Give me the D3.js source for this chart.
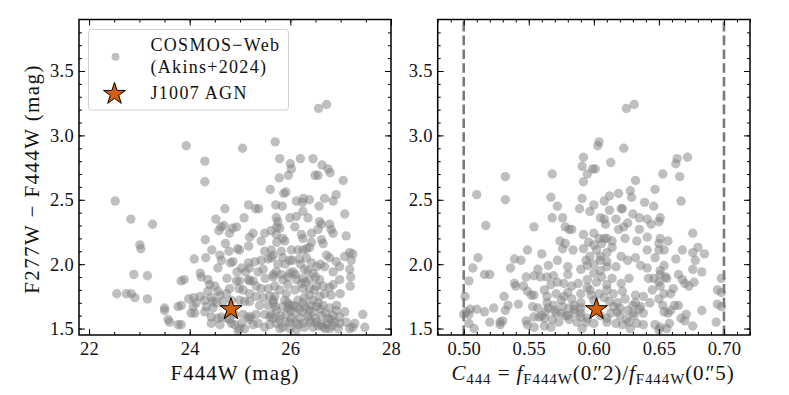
<!DOCTYPE html>
<html>
<head>
<meta charset="utf-8">
<script src="https://cdn.jsdelivr.net/npm/d3@7"></script>
<style>
  body { margin: 0; background: #fff; }
  svg text { font-family: "Liberation Serif", "DejaVu Serif", serif; fill: #111; }
  .tick text { font-size: 18.5px; letter-spacing: 0.3px; }
  .label { font-size: 21px; }
  .legend text { font-size: 18px; letter-spacing: 1.3px; }
</style>
</head>
<body>
<svg id="chart" width="789" height="395"></svg>
<script>
// tick values
const magTicks = [22, 24, 26, 28];
const concTicks = [0.50, 0.55, 0.60, 0.65, 0.70];
const colorTicks = [1.5, 2.0, 2.5, 3.0, 3.5];
// C444 selection limits (dashed lines)
const concCuts = [0.50, 0.70];

// J1007 AGN
const agnMag = 24.82, agnConc = 0.602, agnColor = 1.65;

// COSMOS-Web sample, [F444W mag, F277W-F444W]
const magColor = [
  [22.52,2.49],[22.55,1.77],[22.74,1.77],[22.83,2.35],[22.84,1.77],[22.89,1.92],[22.91,1.74],[23.01,2.15],[23.03,2.12],[23.16,1.91],[23.16,1.73],
  [23.93,2.92],[24.3,2.8],[24.3,2.64],[25.05,2.9],[25.6,2.58],[25.7,2.95],[25.78,2.67],[25.79,2.82],[25.87,2.55],[25.91,2.56],[25.96,2.69],[26.0,2.78],
  [26.02,2.74],[26.2,2.82],[26.45,2.82],[26.49,2.69],[26.55,2.69],[26.56,3.21],[26.72,3.24],[26.63,2.77],[26.75,2.74],[26.79,2.71],[27.05,2.65],
  [26.91,2.54],[26.68,2.51],[26.26,2.51],
  [25.17,2.46],[25.31,2.43],[25.37,2.43],[24.70,2.43],[25.08,2.36],[24.52,2.35],[23.26,2.31],[24.62,2.29],[24.68,2.30],[24.85,2.28],[24.93,2.29],
  [24.58,2.26],[24.79,2.24],[25.26,2.24],[25.19,2.21],[25.49,2.24],[25.62,2.26],[24.31,2.19],[24.71,2.16],[24.44,2.11],[24.95,2.12],[24.99,2.11],
  [25.17,2.14],[25.42,2.18],[25.49,2.10],[25.62,2.11],[24.60,2.07],[24.78,2.10],[24.09,2.04],[24.32,2.05],[24.63,2.03],[24.81,2.01],[24.86,2.02],
  [25.17,2.01],[25.30,2.02],[25.42,2.03],[25.56,2.04],[25.62,2.05],[24.21,1.93],[24.23,1.90],[23.89,1.88],[23.83,1.87],[24.36,1.88],[24.56,1.97],
  [24.74,1.89],[24.93,1.87],[24.99,1.87],[25.19,1.97],[25.11,1.94],[25.36,1.94],[25.46,1.96],[25.50,1.89],[25.66,1.92],[24.94,1.94],[25.03,1.97],
  [25.17,1.88],[25.19,1.87],[25.26,1.87],[25.32,1.83],[25.42,1.81],[25.56,1.81],[24.40,1.84],[24.50,1.83],[24.36,1.79],[24.56,1.79],[24.60,1.76],
  [24.73,1.77],[24.79,1.81],[24.98,1.81],[25.06,1.80],[25.19,1.77],[25.32,1.75],[25.46,1.74],[25.59,1.75],[25.66,1.72],[23.98,1.73],[24.08,1.74],
  [24.21,1.75],[24.13,1.70],[24.30,1.72],[24.43,1.74],[24.46,1.71],[24.53,1.70],[24.33,1.67],[24.66,1.71],[24.83,1.72],[24.99,1.72],[25.09,1.71],
  [25.19,1.71],[25.39,1.68],[25.56,1.68],[23.50,1.66],[23.50,1.64],[23.77,1.67],[23.83,1.68],[24.07,1.67],[24.10,1.62],[24.03,1.62],[24.30,1.63],
  [24.46,1.66],[24.63,1.59],[24.74,1.58],[24.89,1.61],[25.06,1.61],[25.16,1.59],[25.22,1.59],[25.32,1.61],[25.49,1.61],[25.59,1.59],[23.57,1.57],
  [23.60,1.55],[23.77,1.53],[23.83,1.53],[24.43,1.59],[24.56,1.58],[24.43,1.54],[24.60,1.53],[24.79,1.57],[24.83,1.54],[24.89,1.53],[25.03,1.54],
  [25.09,1.50],[25.19,1.57],[25.26,1.53],[25.36,1.54],[25.49,1.51],[25.59,1.53],[24.99,1.50],[24.96,1.48],
  [25.71,2.46],[25.84,2.45],[26.12,2.49],[26.24,2.48],[26.38,2.50],[26.57,2.45],[26.85,2.49],[27.08,2.39],[25.72,2.36],[25.75,2.33],[25.99,2.36],
  [26.12,2.37],[26.25,2.41],[26.35,2.36],[26.58,2.33],[26.62,2.31],[26.78,2.31],[26.81,2.27],[25.73,2.29],[25.79,2.28],[26.09,2.29],[26.22,2.23],
  [26.25,2.20],[26.42,2.24],[26.55,2.27],[26.85,2.24],[27.11,2.22],[25.72,2.23],[25.85,2.20],[25.89,2.18],[25.73,2.17],[26.02,2.11],[26.15,2.11],
  [26.25,2.11],[26.32,2.12],[26.42,2.17],[26.38,2.13],[26.62,2.19],[26.65,2.16],[26.72,2.07],[26.78,2.05],[26.91,2.02],[27.08,2.06],[27.18,2.09],
  [27.24,2.08],[27.21,2.03],[27.18,1.96],[27.2,1.90],[27.19,1.83],[26.98,1.88],[26.99,1.77],[26.85,1.84],[26.78,1.82],[25.66,2.07],[25.82,2.10],
  [25.85,2.05],[25.99,2.03],[26.04,2.03],[26.18,2.04],[26.32,2.05],[26.42,2.01],[26.52,1.98],[26.45,1.93],[26.28,1.96],[26.25,1.89],[26.22,1.85],
  [26.05,1.94],[25.99,1.93],[25.82,1.92],[25.72,1.94],[25.66,1.90],[25.85,1.88],[25.95,1.84],[25.69,1.83],[25.79,1.80],[25.92,1.77],[26.09,1.80],
  [26.25,1.81],[26.38,1.81],[26.52,1.83],[26.65,1.83],[26.68,1.77],[26.81,1.76],[26.58,1.75],[26.45,1.72],[26.25,1.70],[26.12,1.67],[25.99,1.68],
  [25.85,1.67],[25.72,1.64],[25.66,1.70],[25.92,1.61],[26.09,1.62],[26.25,1.63],[26.38,1.64],[26.52,1.67],[26.65,1.68],[26.78,1.66],[26.91,1.64],
  [26.98,1.59],[27.08,1.63],[27.11,1.55],[27.28,1.54],[27.24,1.51],[27.18,1.50],[27.44,1.61],[27.48,1.51],[26.98,1.54],[26.81,1.57],[26.72,1.54],
  [26.62,1.53],[26.52,1.55],[26.38,1.57],[26.25,1.54],[26.15,1.53],[25.99,1.55],[25.85,1.51],[25.72,1.54],[25.79,1.50],[25.99,1.50],[26.12,1.49],
  [26.28,1.51],[26.45,1.51],[26.65,1.51],[26.78,1.50],[26.88,1.55],[25.62,1.61],[25.89,1.72],[25.69,1.75],[26.38,1.76],[26.58,1.88],[26.38,1.88],
  [26.12,1.88],[26.68,1.98],[26.85,1.94],[26.98,1.98],
  [25.95,1.66],[26.0,1.64],[26.05,1.68],[26.18,1.65],[26.3,1.67],[26.35,1.6],[26.45,1.63],[26.5,1.58],[26.6,1.65],[26.7,1.62],[26.75,1.58],
  [26.85,1.6],[26.92,1.68],[25.8,1.6],[25.78,1.57],[25.9,1.55],[26.02,1.58],[26.2,1.58],[26.4,1.55],[26.55,1.52],[26.7,1.5],[26.83,1.52],
  [26.95,1.5],[26.1,1.55],[25.7,1.67],[25.65,1.58],[26.28,1.74],[26.55,1.7],[26.62,1.6],[26.4,1.68],[26.15,1.72],[25.95,1.7],[26.48,1.8],
  [26.3,1.86],[26.5,1.9],[26.35,1.95],[26.6,2.0],[26.2,2.0],[25.9,2.0],[26.1,1.92],[25.75,2.0],[25.95,1.9]
];

// COSMOS-Web sample, [C444, F277W-F444W]
const concColor = [
  [0.532,2.68],[0.510,2.54],[0.532,2.50],[0.517,2.30],[0.554,2.29],[0.549,2.11],[0.511,2.05],[0.507,1.97],[0.539,2.04],[0.544,2.03],[0.536,1.97],
  [0.516,1.92],[0.520,1.92],[0.504,1.87],[0.557,1.96],[0.548,1.90],[0.554,1.91],[0.539,1.85],[0.540,1.83],[0.546,1.83],[0.549,1.79],[0.552,1.76],
  [0.554,1.76],[0.501,1.75],[0.531,1.75],[0.534,1.68],[0.542,1.69],[0.523,1.66],[0.510,1.65],[0.505,1.65],[0.516,1.63],[0.532,1.64],[0.500,1.61],
  [0.504,1.61],[0.502,1.63],[0.553,1.67],[0.557,1.66],[0.504,1.54],[0.508,1.50],[0.520,1.55],[0.528,1.55],[0.528,1.53],[0.530,1.56],[0.548,1.56],
  [0.549,1.53],[0.554,1.51],[0.554,1.59],[0.558,1.59],
  [0.625,3.21],[0.631,3.24],[0.603,2.92],[0.604,2.95],[0.623,2.90],
  [0.592,2.83],[0.591,2.76],[0.595,2.70],[0.599,2.74],[0.601,2.74],[0.592,2.64],[0.613,2.79],[0.568,2.70],[0.632,2.65],[0.567,2.52],[0.591,2.51],
  [0.572,2.45],[0.589,2.43],[0.597,2.41],[0.600,2.46],[0.608,2.49],[0.612,2.53],[0.619,2.55],[0.628,2.57],[0.629,2.52],[0.639,2.48],[0.612,2.42],
  [0.621,2.43],[0.622,2.43],[0.630,2.39],[0.635,2.36],[0.641,2.35],[0.568,2.36],[0.576,2.36],[0.605,2.36],[0.608,2.35],[0.617,2.35],[0.578,2.29],
  [0.581,2.27],[0.583,2.27],[0.592,2.23],[0.609,2.31],[0.619,2.27],[0.623,2.29],[0.626,2.32],[0.635,2.27],[0.624,2.20],[0.633,2.18],[0.641,2.21],
  [0.574,2.18],[0.578,2.16],[0.584,2.11],[0.576,2.12],[0.592,2.12],[0.596,2.17],[0.600,2.24],[0.604,2.20],[0.606,2.16],[0.610,2.20],[0.614,2.18],
  [0.560,2.08],[0.572,2.03],[0.565,1.99],[0.559,1.90],[0.564,1.90],[0.569,1.91],[0.580,1.98],[0.580,1.92],[0.590,1.96],[0.594,2.03],[0.597,2.06],
  [0.602,2.11],[0.605,2.03],[0.610,2.09],[0.614,2.13],[0.621,2.06],[0.626,2.03],[0.632,2.05],[0.636,1.99],[0.641,1.97],[0.610,1.98],[0.617,1.98],
  [0.627,1.89],[0.621,1.85],[0.614,1.89],[0.606,1.90],[0.600,1.93],[0.595,1.88],[0.588,1.85],[0.583,1.83],[0.577,1.85],[0.572,1.86],[0.567,1.84],
  [0.562,1.80],[0.564,1.75],[0.571,1.77],[0.577,1.75],[0.583,1.73],[0.590,1.77],[0.597,1.80],[0.604,1.77],[0.610,1.80],[0.615,1.77],[0.622,1.79],
  [0.632,1.76],[0.638,1.75],[0.624,1.73],[0.618,1.70],[0.612,1.71],[0.632,1.70],[0.636,1.67],[0.564,1.70],[0.569,1.68],[0.576,1.67],[0.581,1.66],
  [0.585,1.68],[0.590,1.66],[0.563,1.63],[0.571,1.62],[0.578,1.60],[0.585,1.62],[0.590,1.59],[0.613,1.62],[0.618,1.63],[0.626,1.64],[0.631,1.60],
  [0.638,1.62],[0.562,1.58],[0.568,1.57],[0.573,1.55],[0.581,1.57],[0.587,1.55],[0.594,1.55],[0.610,1.55],[0.617,1.54],[0.622,1.53],[0.627,1.55],
  [0.633,1.54],[0.638,1.53],[0.567,1.51],[0.591,1.50],[0.600,1.54],[0.628,1.50],
  [0.664,2.82],[0.663,2.78],[0.672,2.83],[0.653,2.70],[0.666,2.68],[0.647,2.58],[0.667,2.49],[0.646,2.45],[0.644,2.31],[0.650,2.33],[0.651,2.36],
  [0.651,2.20],[0.657,2.18],[0.650,2.16],[0.676,2.24],[0.641,2.11],[0.650,2.11],[0.654,2.11],[0.668,2.11],[0.680,2.13],[0.676,2.09],[0.685,2.08],
  [0.647,2.05],[0.663,2.04],[0.678,2.03],[0.654,1.99],[0.651,1.95],[0.676,1.96],[0.683,1.94],[0.642,1.89],[0.646,1.89],[0.651,1.92],[0.655,1.90],
  [0.650,1.86],[0.656,1.89],[0.665,1.92],[0.668,1.88],[0.670,1.85],[0.673,1.83],[0.677,1.86],[0.698,1.89],[0.695,1.80],[0.698,1.78],[0.645,1.80],
  [0.651,1.83],[0.654,1.77],[0.661,1.81],[0.659,1.77],[0.643,1.70],[0.650,1.73],[0.653,1.68],[0.662,1.68],[0.665,1.68],[0.659,1.64],[0.654,1.63],
  [0.657,1.62],[0.695,1.69],[0.698,1.67],[0.683,1.64],[0.667,1.58],[0.671,1.61],[0.670,1.56],[0.647,1.53],[0.651,1.51],[0.650,1.49],[0.656,1.50],
  [0.658,1.54],[0.676,1.52],[0.694,1.55],
  [0.565,1.66],[0.57,1.64],[0.575,1.62],[0.58,1.6],[0.585,1.65],[0.59,1.62],[0.595,1.58],[0.605,1.6],[0.61,1.58],[0.62,1.6],[0.625,1.57],
  [0.63,1.62],[0.62,1.66],[0.615,1.67],[0.63,1.68],[0.635,1.65],[0.59,1.7],[0.6,1.72],[0.608,1.74],[0.598,1.76],[0.595,1.82],[0.602,1.86],
  [0.61,1.84],[0.605,1.95],[0.6,2.0],[0.61,2.02],[0.605,2.06],[0.6,2.15],[0.608,2.2],[0.595,1.99],[0.58,1.78],[0.575,1.72],[0.56,1.6],[0.562,1.52]
];

const svg = d3.select("#chart");
const yTop = 19.5, yBottom = 335;
const y = d3.scaleLinear().domain([1.45, 3.9]).range([yBottom, yTop]);
const xMag = d3.scaleLinear().domain([21.8, 28]).range([79, 391]);
const xConc = d3.scaleLinear().domain([0.48, 0.72]).range([437.7, 750]);

const colorMinor = d3.range(15, 39).map(v => v / 10);
const magMinor = d3.range(44, 57).map(v => v / 2);
const concMinor = d3.range(48, 73).map(v => v / 100);

const starPath = d3.symbol(d3.symbolStar, 150)();
const agnFill = "#d45f0c";

function panel(id, x, data, xMajor, xMinor, xFmt) {
  const [x0, x1] = x.range();
  svg.append("clipPath").attr("id", id)
    .append("rect").attr("x", x0).attr("y", yTop).attr("width", x1 - x0).attr("height", yBottom - yTop);

  const g = svg.append("g");
  const plot = g.append("g").attr("clip-path", `url(#${id})`);

  plot.selectAll("circle")
    .data(data)
    .enter().append("circle")
    .attr("cx", d => x(d[0]))
    .attr("cy", d => y(d[1]))
    .attr("r", 4.7)
    .attr("fill", "gray")
    .attr("fill-opacity", 0.5);

  // ticks, all pointing in
  const noDomain = s => s.select(".domain").remove();
  const clean = s => s.attr("font-size", null).attr("font-family", null);
  g.append("g").attr("transform", `translate(0,${yBottom})`)
    .call(d3.axisBottom(x).tickValues(xMinor).tickSize(-3).tickFormat("")).call(noDomain);
  g.append("g").attr("transform", `translate(0,${yBottom})`)
    .call(d3.axisBottom(x).tickValues(xMajor).tickSize(-6).tickSizeOuter(0).tickPadding(7).tickFormat(xFmt))
    .call(noDomain).call(clean);
  g.append("g").attr("transform", `translate(0,${yTop})`)
    .call(d3.axisTop(x).tickValues(xMinor).tickSize(-3).tickFormat("")).call(noDomain);
  g.append("g").attr("transform", `translate(0,${yTop})`)
    .call(d3.axisTop(x).tickValues(xMajor).tickSize(-6).tickFormat("")).call(noDomain);
  g.append("g").attr("transform", `translate(${x0},0)`)
    .call(d3.axisLeft(y).tickValues(colorMinor).tickSize(-3).tickFormat("")).call(noDomain);
  g.append("g").attr("transform", `translate(${x0},0)`)
    .call(d3.axisLeft(y).tickValues(colorTicks).tickSize(-6).tickPadding(5).tickFormat(d3.format(".1f")))
    .call(noDomain).call(clean);
  g.append("g").attr("transform", `translate(${x1},0)`)
    .call(d3.axisRight(y).tickValues(colorMinor).tickSize(-3).tickFormat("")).call(noDomain);
  g.append("g").attr("transform", `translate(${x1},0)`)
    .call(d3.axisRight(y).tickValues(colorTicks).tickSize(-6).tickFormat("")).call(noDomain);

  g.selectAll(".tick line").attr("stroke", "#000").attr("stroke-width", 1);

  return {g, plot};
}

// left: colour vs F444W magnitude
const left = panel("clipL", xMag, magColor, magTicks, magMinor, d3.format("d"));
left.plot.append("path")
  .attr("d", starPath)
  .attr("transform", `translate(${xMag(agnMag)},${y(agnColor)})`)
  .attr("fill", agnFill).attr("stroke", "#000").attr("stroke-width", 1);

// right: colour vs compactness
const right = panel("clipR", xConc, concColor, concTicks, concMinor, d3.format(".2f"));
right.plot.selectAll(".cut")
  .data(concCuts)
  .enter().append("line")
  .attr("class", "cut")
  .attr("x1", d => xConc(d)).attr("x2", d => xConc(d))
  .attr("y1", yBottom).attr("y2", yTop)
  .attr("stroke", "#7a7a7a").attr("stroke-width", 2.6)
  .attr("stroke-dasharray", "9.6,4.2");
right.plot.append("path")
  .attr("d", starPath)
  .attr("transform", `translate(${xConc(agnConc)},${y(agnColor)})`)
  .attr("fill", agnFill).attr("stroke", "#000").attr("stroke-width", 1);

// frames
[xMag, xConc].forEach(x => {
  const [x0, x1] = x.range();
  svg.append("rect")
    .attr("x", x0).attr("y", yTop).attr("width", x1 - x0).attr("height", yBottom - yTop)
    .attr("fill", "none").attr("stroke", "#000").attr("stroke-width", 1.5);
});

// axis labels
svg.append("text").attr("class", "label")
  .attr("x", (xMag.range()[0] + xMag.range()[1]) / 2).attr("y", 380)
  .attr("text-anchor", "middle").attr("letter-spacing", 1).text("F444W (mag)");

svg.append("text").attr("class", "label")
  .attr("transform", "translate(39,179) rotate(-90)")
  .attr("text-anchor", "middle").attr("letter-spacing", 1.4).text("F277W \u2212 F444W (mag)");

// C444 = f_F444W(0.''2) / f_F444W(0.''5), the arcsec mark sits over the dot
const xl = svg.append("text").attr("class", "label")
  .attr("x", 593).attr("y", 380).attr("text-anchor", "middle").attr("letter-spacing", 0.9);
xl.append("tspan").attr("font-style", "italic").text("C");
xl.append("tspan").attr("font-size", 15).attr("dy", 4).text("444");
xl.append("tspan").attr("dy", -4).text(" = ");
xl.append("tspan").attr("font-style", "italic").text("f");
xl.append("tspan").attr("font-size", 15).attr("dy", 4).text("F444W");
xl.append("tspan").attr("dy", -4).attr("dx", "0 0 0 -5").text("(0.\u20332)/");
xl.append("tspan").attr("font-style", "italic").text("f");
xl.append("tspan").attr("font-size", 15).attr("dy", 4).text("F444W");
xl.append("tspan").attr("dy", -4).attr("dx", "0 0 0 -5").text("(0.\u20335)");

// legend
const lg = svg.append("g").attr("class", "legend");
lg.append("rect")
  .attr("x", 88.5).attr("y", 29.5).attr("width", 200).attr("height", 80.5).attr("rx", 3)
  .attr("fill", "#fff").attr("fill-opacity", 0.8)
  .attr("stroke", "#d0d0d0").attr("stroke-width", 1);
lg.append("circle").attr("cx", 115.5).attr("cy", 56.7).attr("r", 4)
  .attr("fill", "gray").attr("fill-opacity", 0.5);
lg.append("text").attr("x", 150.5).attr("y", 51).text("COSMOS\u2212Web");
lg.append("text").attr("x", 150.5).attr("y", 72.5).text("(Akins+2024)");
lg.append("path").attr("d", starPath)
  .attr("transform", "translate(114.5,94)")
  .attr("fill", agnFill).attr("stroke", "#000").attr("stroke-width", 1);
lg.append("text").attr("x", 150.5).attr("y", 99).text("J1007 AGN");
</script>
</body>
</html>
